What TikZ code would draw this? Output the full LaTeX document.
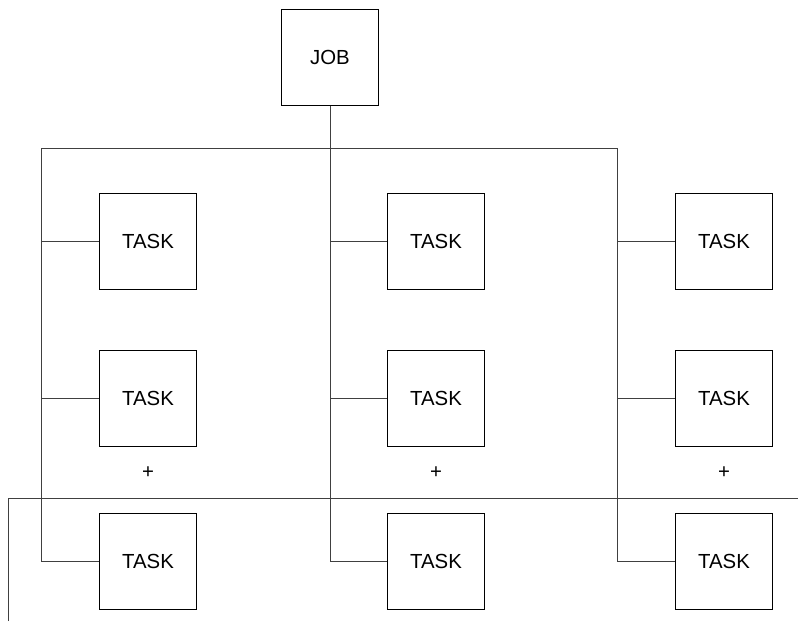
\documentclass[tikz,border=0pt]{standalone}
\usepackage{fontspec}
\setmainfont{Liberation Sans}
\begin{document}
\begin{tikzpicture}[x=0.025cm,y=-0.025cm,line width=0.7pt,
  box/.style={rectangle,draw,fill=white,inner sep=0pt,minimum size=2.4cm,font=\fontsize{14.5}{17}\selectfont},
  plus/.style={inner sep=0pt,font=\fontsize{14.5}{17}\selectfont},
  wire/.style={draw=black!75}]
\useasboundingbox (0,0) rectangle (798,621);
\node[box] (job) at (330,57) {JOB};
\node[box] (t11) at (148,241) {TASK};
\node[box] (t12) at (148,398) {TASK};
\node[box] (t13) at (148,561) {TASK};
\node[box] (t21) at (436,241) {TASK};
\node[box] (t22) at (436,398) {TASK};
\node[box] (t23) at (436,561) {TASK};
\node[box] (t31) at (724,241) {TASK};
\node[box] (t32) at (724,398) {TASK};
\node[box] (t33) at (724,561) {TASK};
\node[plus] (p1) at (148,473) {+};
\node[plus] (p2) at (436,473) {+};
\node[plus] (p3) at (724,473) {+};
\coordinate (busL) at (41,148);
\coordinate (busR) at (617,148);
\coordinate (railA) at (8,621);
\coordinate (railB) at (798,498);
\draw[wire] (busL) -- (busR);
\draw[wire] (busL) |- (t13.west) (busL |- t11) -- (t11.west) (busL |- t12) -- (t12.west);
\draw[wire] (job.south) |- (t23.west) (job.south |- t21) -- (t21.west) (job.south |- t22) -- (t22.west);
\draw[wire] (busR) |- (t33.west) (busR |- t31) -- (t31.west) (busR |- t32) -- (t32.west);
\draw[wire] (railA) |- (railB);
\end{tikzpicture}
\end{document}
